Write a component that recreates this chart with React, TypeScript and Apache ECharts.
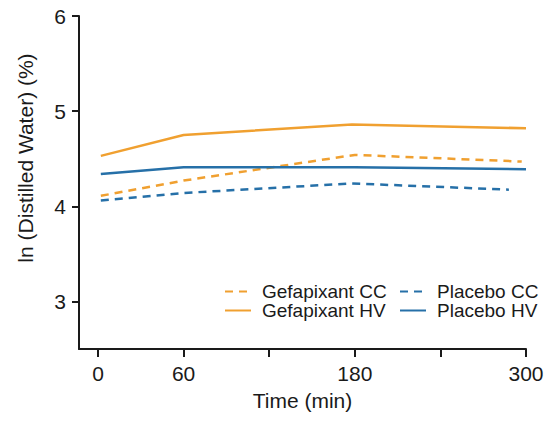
import React, { useEffect, useRef } from "react";
import * as echarts from "echarts";

const gefCCTime = [2, 60, 180, 297];
const gefCC = [4.11, 4.27, 4.54, 4.47];
const gefHVTime = [2, 60, 178, 300];
const gefHV = [4.53, 4.75, 4.86, 4.82];
const plaCCTime = [2, 60, 178, 288];
const plaCC = [4.06, 4.14, 4.24, 4.175];
const plaHVTime = [2, 60, 180, 300];
const plaHV = [4.34, 4.41, 4.41, 4.39];

const xTicks = [0, 60, 120, 180, 240, 300];
const xLabels = [0, 60, 180, 300];
const yTicks = [3, 4, 5, 6];

const ORANGE = "#F0A030";
const BLUE = "#2670A8";
const FONT = "Liberation Sans, Arial, sans-serif";
const INK = "#1a1a1a";

const pairs = (t: number[], v: number[]) => t.map((x, i) => [x, v[i]]);

export default function App() {
  const ref = useRef<HTMLDivElement>(null);
  useEffect(() => {
    if (!ref.current) return;
    const chart = echarts.init(ref.current, null, { renderer: "svg" });
    const mk = (name: string, data: number[][], color: string, dashed: boolean) => ({
      name,
      type: "line",
      data,
      symbol: "none",
      showSymbol: false,
      lineStyle: { color, width: 2.5, type: dashed ? [8, 6] : "solid" },
      itemStyle: { color },
    });
    const legendCommon = {
      orient: "vertical",
      top: 277,
      itemWidth: 26,
      itemHeight: 10,
      itemGap: 0,
      itemStyle: { opacity: 0 },
      textStyle: { fontSize: 19, color: INK, fontFamily: FONT, padding: [0, 0, 0, 6] },
    };
    chart.setOption({
      animation: false,
      backgroundColor: "#ffffff",
      grid: { left: 79, right: 24, top: 16, bottom: 72, containLabel: false },
      xAxis: {
        type: "value",
        min: -13.3,
        max: 300,
        name: "Time (min)",
        nameLocation: "middle",
        nameGap: 41,
        nameTextStyle: { fontSize: 21, color: INK, fontFamily: FONT },
        axisLine: { show: true, onZero: false, lineStyle: { color: INK, width: 2 } },
        axisTick: {
          show: true,
          length: 8,
          inside: false,
          customValues: xTicks,
          lineStyle: { color: INK, width: 2 },
        },
        axisLabel: {
          customValues: xLabels,
          fontSize: 21,
          color: INK,
          fontFamily: FONT,
          margin: 14,
        },
        splitLine: { show: false },
      },
      yAxis: {
        type: "value",
        min: 2.5,
        max: 6,
        axisLine: { show: true, onZero: false, lineStyle: { color: INK, width: 2 } },
        axisTick: {
          show: true,
          length: 7,
          customValues: yTicks,
          lineStyle: { color: INK, width: 2 },
        },
        axisLabel: {
          customValues: yTicks,
          fontSize: 21,
          color: INK,
          fontFamily: FONT,
          margin: 13,
        },
        splitLine: { show: false },
      },
      legend: [
        { ...legendCommon, left: 219, data: ["Gefapixant CC", "Gefapixant HV"] },
        { ...legendCommon, left: 394, data: ["Placebo CC", "Placebo HV"] },
      ],
      graphic: [
        {
          type: "text",
          x: 25,
          y: 158,
          rotation: Math.PI / 2,
          style: {
            text: "ln (Distilled Water) (%)",
            fontSize: 21,
            fill: INK,
            fontFamily: FONT,
            align: "center",
            verticalAlign: "middle",
          },
        },
      ],
      series: [
        mk("Gefapixant CC", pairs(gefCCTime, gefCC), ORANGE, true),
        mk("Gefapixant HV", pairs(gefHVTime, gefHV), ORANGE, false),
        mk("Placebo CC", pairs(plaCCTime, plaCC), BLUE, true),
        mk("Placebo HV", pairs(plaHVTime, plaHV), BLUE, false),
      ],
    });
    return () => chart.dispose();
  }, []);
  return <div ref={ref} style={{ width: 550, height: 421, position: "absolute", left: 0, top: 0 }} />;
}
